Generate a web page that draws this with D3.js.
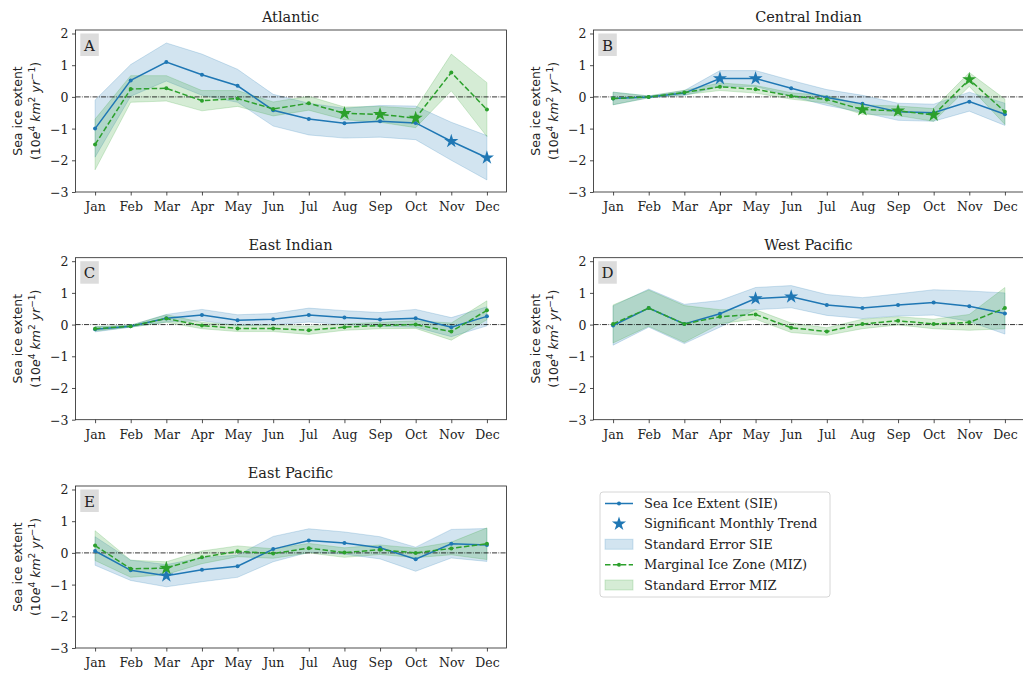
<!DOCTYPE html>
<html>
<head>
<meta charset="utf-8">
<script src="https://cdn.jsdelivr.net/npm/d3@7"></script>
<style>
  html, body { margin: 0; padding: 0; background: #fff; }
  svg { display: block; }
</style>
</head>
<body>
<svg id="chart" width="1023" height="673"></svg>
<script>
// ---------------- DATA ----------------
const months = ["Jan","Feb","Mar","Apr","May","Jun","Jul","Aug","Sep","Oct","Nov","Dec"];
const yTicks = [-3, -2, -1, 0, 1, 2];

const regionNames = ["Atlantic", "Central Indian", "East Indian", "West Pacific", "East Pacific"];
const regionLetters = ["A", "B", "C", "D", "E"];

// Atlantic
const atlanticSIE     = [-1.00, 0.52, 1.10, 0.70, 0.35, -0.42, -0.70, -0.83, -0.77, -0.82, -1.40, -1.92];
const atlanticSIEse   = [0.90, 0.50, 0.60, 0.65, 0.52, 0.50, 0.50, 0.47, 0.50, 0.53, 0.60, 0.70];
const atlanticMIZ     = [-1.50, 0.25, 0.27, -0.12, -0.05, -0.38, -0.20, -0.52, -0.55, -0.67, 0.77, -0.40];
const atlanticMIZse   = [0.80, 0.42, 0.40, 0.32, 0.25, 0.22, 0.22, 0.20, 0.25, 0.30, 0.58, 0.85];
const atlanticSIEsig  = ["Nov", "Dec"];
const atlanticMIZsig  = ["Aug", "Sep", "Oct"];

// Central Indian
const centralIndianSIE    = [-0.05, 0.00, 0.12, 0.58, 0.58, 0.27, -0.02, -0.22, -0.47, -0.50, -0.15, -0.55];
const centralIndianSIEse  = [0.20, 0.03, 0.08, 0.25, 0.25, 0.25, 0.25, 0.27, 0.27, 0.27, 0.30, 0.35];
const centralIndianMIZ    = [-0.05, 0.00, 0.14, 0.32, 0.24, 0.03, -0.08, -0.40, -0.44, -0.57, 0.55, -0.47];
const centralIndianMIZse  = [0.20, 0.03, 0.07, 0.12, 0.12, 0.10, 0.12, 0.15, 0.15, 0.20, 0.22, 0.40];
const centralIndianSIEsig = ["Apr", "May"];
const centralIndianMIZsig = ["Aug", "Sep", "Oct", "Nov"];

// East Indian
const eastIndianSIE    = [-0.15, -0.05, 0.20, 0.30, 0.14, 0.17, 0.30, 0.22, 0.16, 0.20, -0.08, 0.26];
const eastIndianSIEse  = [0.08, 0.03, 0.12, 0.18, 0.17, 0.18, 0.22, 0.22, 0.22, 0.28, 0.30, 0.30];
const eastIndianMIZ    = [-0.13, -0.05, 0.19, -0.03, -0.12, -0.12, -0.18, -0.08, -0.03, 0.00, -0.22, 0.45];
const eastIndianMIZse  = [0.07, 0.03, 0.12, 0.10, 0.10, 0.10, 0.13, 0.10, 0.10, 0.12, 0.27, 0.30];
const eastIndianSIEsig = [];
const eastIndianMIZsig = [];

// West Pacific
const westPacificSIE    = [-0.03, 0.52, 0.02, 0.34, 0.82, 0.88, 0.62, 0.52, 0.62, 0.70, 0.58, 0.35];
const westPacificSIEse  = [0.62, 0.60, 0.62, 0.42, 0.35, 0.35, 0.33, 0.33, 0.35, 0.40, 0.48, 0.65];
const westPacificMIZ    = [0.02, 0.52, 0.02, 0.25, 0.32, -0.10, -0.22, 0.02, 0.12, 0.02, 0.07, 0.52];
const westPacificMIZse  = [0.60, 0.57, 0.58, 0.22, 0.15, 0.15, 0.12, 0.15, 0.13, 0.15, 0.25, 0.65];
const westPacificSIEsig = ["May", "Jun"];
const westPacificMIZsig = [];

// East Pacific
const eastPacificSIE    = [0.06, -0.55, -0.72, -0.53, -0.42, 0.12, 0.39, 0.31, 0.16, -0.20, 0.29, 0.25];
const eastPacificSIEse  = [0.45, 0.32, 0.35, 0.38, 0.35, 0.40, 0.37, 0.35, 0.35, 0.38, 0.45, 0.52];
const eastPacificMIZ    = [0.23, -0.50, -0.48, -0.14, 0.05, -0.02, 0.15, 0.01, 0.10, 0.00, 0.14, 0.29];
const eastPacificMIZse  = [0.47, 0.27, 0.20, 0.20, 0.17, 0.15, 0.15, 0.15, 0.15, 0.15, 0.20, 0.50];
const eastPacificSIEsig = ["Mar"];
const eastPacificMIZsig = ["Mar"];

const legendLabels = ["Sea Ice Extent (SIE)", "Significant Monthly Trend", "Standard Error SIE",
                      "Marginal Ice Zone (MIZ)", "Standard Error MIZ"];

// ---------------- LAYOUT / STYLE ----------------
const C_SIE = "#1f77b4", C_MIZ = "#2ca02c";
const serif = "'DejaVu Serif', serif";
const sans = "'DejaVu Sans', sans-serif";
const panelW = 431, panelH = 162;
const colX = [75.5, 593.5];
const rowY = [30, 257.7, 486];
const yDomain = [-3, 2.11];

const panels = [
  {name: regionNames[0], letter: regionLetters[0], sie: atlanticSIE, sieSe: atlanticSIEse, miz: atlanticMIZ, mizSe: atlanticMIZse, sieSig: atlanticSIEsig, mizSig: atlanticMIZsig, col: 0, row: 0},
  {name: regionNames[1], letter: regionLetters[1], sie: centralIndianSIE, sieSe: centralIndianSIEse, miz: centralIndianMIZ, mizSe: centralIndianMIZse, sieSig: centralIndianSIEsig, mizSig: centralIndianMIZsig, col: 1, row: 0},
  {name: regionNames[2], letter: regionLetters[2], sie: eastIndianSIE, sieSe: eastIndianSIEse, miz: eastIndianMIZ, mizSe: eastIndianMIZse, sieSig: eastIndianSIEsig, mizSig: eastIndianMIZsig, col: 0, row: 1},
  {name: regionNames[3], letter: regionLetters[3], sie: westPacificSIE, sieSe: westPacificSIEse, miz: westPacificMIZ, mizSe: westPacificMIZse, sieSig: westPacificSIEsig, mizSig: westPacificMIZsig, col: 1, row: 1},
  {name: regionNames[4], letter: regionLetters[4], sie: eastPacificSIE, sieSe: eastPacificSIEse, miz: eastPacificMIZ, mizSe: eastPacificMIZse, sieSig: eastPacificSIEsig, mizSig: eastPacificMIZsig, col: 0, row: 2}
];

const svg = d3.select("#chart");
const starSym = d3.symbol().type(d3.symbolStar).size(62);

panels.forEach((p, pi) => {
  const x0 = colX[p.col], y0 = rowY[p.row];
  const g = svg.append("g").attr("transform", `translate(${x0},${y0})`);
  const x = d3.scalePoint().domain(months).range([0, panelW]).padding(0.55);
  const y = d3.scaleLinear().domain(yDomain).range([panelH, 0]);

  const clipId = "clip" + pi;
  g.append("clipPath").attr("id", clipId).append("rect")
    .attr("x", 0).attr("y", 0).attr("width", panelW).attr("height", panelH);
  const plot = g.append("g").attr("clip-path", `url(#${clipId})`);

  const rows = months.map((m, i) => ({m, sie: p.sie[i], sieSe: p.sieSe[i], miz: p.miz[i], mizSe: p.mizSe[i]}));

  const areaSIE = d3.area().x(d => x(d.m)).y0(d => y(d.sie - d.sieSe)).y1(d => y(d.sie + d.sieSe));
  const areaMIZ = d3.area().x(d => x(d.m)).y0(d => y(d.miz - d.mizSe)).y1(d => y(d.miz + d.mizSe));
  plot.append("path").datum(rows).attr("d", areaSIE)
    .attr("fill", C_SIE).attr("fill-opacity", 0.2).attr("stroke", C_SIE).attr("stroke-opacity", 0.2).attr("stroke-width", 1);
  plot.append("path").datum(rows).attr("d", areaMIZ)
    .attr("fill", C_MIZ).attr("fill-opacity", 0.2).attr("stroke", C_MIZ).attr("stroke-opacity", 0.2).attr("stroke-width", 1);

  // zero line
  plot.append("line").attr("x1", 0).attr("x2", panelW).attr("y1", y(0)).attr("y2", y(0))
    .attr("stroke", "#000").attr("stroke-width", 0.8).attr("stroke-dasharray", "5.1,1.3,0.8,1.3");

  const lineSIE = d3.line().x(d => x(d.m)).y(d => y(d.sie));
  const lineMIZ = d3.line().x(d => x(d.m)).y(d => y(d.miz));
  plot.append("path").datum(rows).attr("d", lineSIE).attr("fill", "none")
    .attr("stroke", C_SIE).attr("stroke-width", 1.5);
  plot.selectAll(".dSIE").data(rows).enter().append("circle")
    .attr("cx", d => x(d.m)).attr("cy", d => y(d.sie)).attr("r", 2).attr("fill", C_SIE);
  plot.append("path").datum(rows).attr("d", lineMIZ).attr("fill", "none")
    .attr("stroke", C_MIZ).attr("stroke-width", 1.5).attr("stroke-dasharray", "5.5,2.4");
  plot.selectAll(".dMIZ").data(rows).enter().append("circle")
    .attr("cx", d => x(d.m)).attr("cy", d => y(d.miz)).attr("r", 2).attr("fill", C_MIZ);

  // significance stars
  plot.selectAll(".sSIE").data(rows.filter(d => p.sieSig.includes(d.m))).enter().append("path")
    .attr("d", starSym).attr("transform", d => `translate(${x(d.m)},${y(d.sie)})`).attr("fill", C_SIE);
  plot.selectAll(".sMIZ").data(rows.filter(d => p.mizSig.includes(d.m))).enter().append("path")
    .attr("d", starSym).attr("transform", d => `translate(${x(d.m)},${y(d.miz)})`).attr("fill", C_MIZ);

  // frame
  g.append("rect").attr("x", 0).attr("y", 0).attr("width", panelW).attr("height", panelH)
    .attr("fill", "none").attr("stroke", "#222").attr("stroke-width", 0.8);

  // axes
  const xAxis = g.append("g").attr("transform", `translate(0,${panelH})`)
    .call(d3.axisBottom(x).tickSizeOuter(0).tickSize(3.5).tickPadding(4));
  const yAxis = g.append("g").call(d3.axisLeft(y).tickValues(yTicks).tickSizeOuter(0).tickSize(3.5).tickPadding(3.5)
    .tickFormat(d => d < 0 ? "\u2212" + Math.abs(d) : d));
  [xAxis, yAxis].forEach(a => {
    a.select(".domain").remove();
    a.selectAll(".tick line").attr("stroke", "#222").attr("stroke-width", 0.8);
    a.selectAll(".tick text").attr("fill", "#222").style("font-family", serif).style("font-size", "12.5px");
  });
  xAxis.selectAll(".tick text").attr("dy", "0.95em");
  yAxis.selectAll(".tick text").attr("dy", "0.36em");

  // title
  g.append("text").attr("x", 215).attr("y", -8).attr("text-anchor", "middle")
    .style("font-family", serif).style("font-size", "14.5px").attr("fill", "#222").text(p.name);

  // letter box
  g.append("rect").attr("x", 4.8).attr("y", 3.5).attr("width", 18.5).attr("height", 22.5).attr("fill", "#dcdcdc");
  g.append("text").attr("x", 14).attr("y", 20.5).attr("text-anchor", "middle")
    .style("font-family", serif).style("font-size", "15px").attr("fill", "#222").text(p.letter);

  // y label
  const cy = panelH / 2;
  g.append("text").attr("transform", `translate(-58,${cy}) rotate(-90)`).attr("text-anchor", "middle")
    .attr("dy", "0.35em").style("font-family", sans).style("font-size", "12.5px").attr("fill", "#222")
    .text("Sea ice extent");
  const yl2 = g.append("text").attr("transform", `translate(-40,${cy}) rotate(-90)`).attr("text-anchor", "middle")
    .attr("dy", "0.35em").style("font-family", sans).style("font-size", "12.5px").attr("fill", "#222");
  yl2.append("tspan").text("(10");
  yl2.append("tspan").style("font-style", "italic").text("e");
  yl2.append("tspan").attr("dy", -5).style("font-size", "9px").text("4");
  yl2.append("tspan").attr("dy", 5).text(" ");
  yl2.append("tspan").style("font-style", "italic").text("km");
  yl2.append("tspan").attr("dy", -5).style("font-size", "9px").text("2");
  yl2.append("tspan").attr("dy", 5).text(" ");
  yl2.append("tspan").style("font-style", "italic").text("yr");
  yl2.append("tspan").attr("dy", -5).style("font-size", "9px").text("\u22121");
  yl2.append("tspan").attr("dy", 5).text(")");
});

// ---------------- LEGEND ----------------
const lg = svg.append("g").attr("transform", "translate(600,492)");
lg.append("rect").attr("x", 0).attr("y", 0).attr("width", 230).attr("height", 105).attr("rx", 3)
  .attr("fill", "#fff").attr("stroke", "#ccc").attr("stroke-width", 0.8);
const ly = d3.scalePoint().domain(legendLabels).range([11.5, 93]);
const hx0 = 5, hx1 = 33, hxm = 19;
legendLabels.forEach((lab, i) => {
  const yy = ly(lab);
  if (i === 0) {
    lg.append("line").attr("x1", hx0).attr("x2", hx1).attr("y1", yy).attr("y2", yy).attr("stroke", C_SIE).attr("stroke-width", 1.5);
    lg.append("circle").attr("cx", hxm).attr("cy", yy).attr("r", 2).attr("fill", C_SIE);
  } else if (i === 1) {
    lg.append("path").attr("d", starSym).attr("transform", `translate(${hxm},${yy})`).attr("fill", C_SIE);
  } else if (i === 2) {
    lg.append("rect").attr("x", hx0).attr("y", yy - 5).attr("width", hx1 - hx0).attr("height", 10)
      .attr("fill", C_SIE).attr("fill-opacity", 0.2).attr("stroke", C_SIE).attr("stroke-opacity", 0.2);
  } else if (i === 3) {
    lg.append("line").attr("x1", hx0).attr("x2", hx1).attr("y1", yy).attr("y2", yy).attr("stroke", C_MIZ)
      .attr("stroke-width", 1.5).attr("stroke-dasharray", "5.5,2.4");
    lg.append("circle").attr("cx", hxm).attr("cy", yy).attr("r", 2).attr("fill", C_MIZ);
  } else {
    lg.append("rect").attr("x", hx0).attr("y", yy - 5).attr("width", hx1 - hx0).attr("height", 10)
      .attr("fill", C_MIZ).attr("fill-opacity", 0.2).attr("stroke", C_MIZ).attr("stroke-opacity", 0.2);
  }
  lg.append("text").attr("x", 44).attr("y", yy).attr("dy", "0.35em")
    .style("font-family", serif).style("font-size", "13px").attr("fill", "#222").text(lab);
});
</script>
</body>
</html>
